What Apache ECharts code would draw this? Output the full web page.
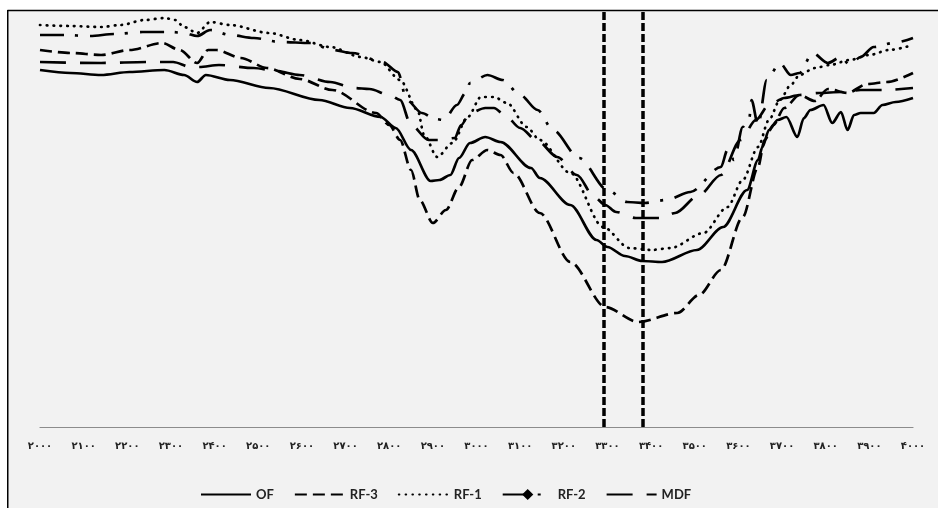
<!DOCTYPE html>
<html><head><meta charset="utf-8">
<script src="https://cdn.jsdelivr.net/npm/echarts@6/dist/echarts.min.js"></script>
<style>html,body{margin:0;padding:0;background:#fff}#c{width:938px;height:508px}</style>
</head><body><div id="c"></div>
<script>
// x-axis ticks (wavenumber, cm-1) and their Persian labels
const tickValues = [2000,2100,2200,2300,2400,2500,2600,2700,2800,2900,3000,3100,3200,3300,3400,3500,3600,3700,3800,3900,4000];
const tickLabels = ['۲۰۰۰','۲۱۰۰','۲۲۰۰','۲۳۰۰','۲۴۰۰','۲۵۰۰','۲۶۰۰','۲۷۰۰','۲۸۰۰','۲۹۰۰','۳۰۰۰','۳۱۰۰','۳۲۰۰','۳۳۰۰','۳۴۰۰','۳۵۰۰','۳۶۰۰','۳۷۰۰','۳۸۰۰','۳۹۰۰','۴۰۰۰'];
const seriesNames = ['OF','RF-3','RF-1','RF-2','MDF'];
const markers = [3292, 3381];

const ofX = [2000,2070,2140,2205,2285,2330,2360,2380,2435,2525,2640,2710,2780,2815,2850,2895,2915,2940,2960,2985,3020,3055,3125,3145,3215,3275,3300,3340,3380,3425,3505,3565,3620,3645,3655,3670,3690,3710,3735,3750,3765,3795,3815,3835,3850,3865,3880,3910,3930,3960,4000];
const ofY = [71.4,70.8,70.4,71.0,71.4,70.4,69.0,70.4,69.4,67.8,65.4,63.8,62.0,59.8,55.4,49.2,49.4,50.4,53.8,56.8,58.0,57.0,51.8,49.8,44.4,37.4,36.0,34.2,33.2,33.0,35.4,40.0,47.4,53.4,56.0,59.4,61.4,62.0,58.0,61.8,63.4,64.4,60.8,63.0,59.4,62.4,62.8,62.8,64.4,65.0,65.8];

const rf3X = [2000,2070,2140,2205,2280,2320,2360,2385,2405,2460,2520,2595,2670,2770,2800,2825,2850,2870,2900,2930,2960,2990,3025,3055,3085,3145,3215,3295,3370,3460,3510,3560,3610,3645,3660,3680,3705,3740,3775,3805,3850,3895,3940,4000];
const rf3Y = [75.4,74.8,74.4,75.4,76.8,75.4,72.8,75.4,75.4,73.8,71.8,69.6,67.4,62.8,60.4,57.4,51.4,45.4,40.8,43.4,48.0,53.4,55.4,54.4,50.8,42.8,33.0,24.0,21.0,22.8,26.4,31.4,42.0,52.0,57.4,60.4,63.8,66.4,65.2,67.6,66.8,68.6,69.0,70.8];

const rf1X = [2000,2070,2140,2185,2240,2285,2310,2330,2360,2390,2435,2525,2595,2665,2735,2780,2825,2865,2880,2910,2945,2980,3010,3040,3070,3115,3145,3215,3290,3350,3400,3445,3520,3575,3610,3645,3670,3695,3720,3740,3775,3810,3855,3900,3945,4000];
const rf1Y = [80.4,80.2,80.0,80.4,81.4,81.8,81.4,80.0,78.8,81.0,80.4,78.8,77.4,76.0,74.0,73.0,69.4,63.4,58.4,54.0,56.8,62.0,66.0,66.0,64.8,60.0,57.4,50.8,40.0,35.8,35.4,35.8,38.8,44.0,49.4,56.0,61.4,65.4,68.4,70.4,71.8,72.4,73.4,74.4,75.4,76.4];

const rf2X = [2000,2055,2115,2170,2235,2300,2330,2360,2390,2435,2490,2550,2620,2670,2715,2785,2820,2840,2875,2905,2925,2955,2975,2985,3025,3060,3100,3140,3175,3235,3300,3345,3385,3435,3490,3560,3575,3590,3610,3625,3630,3645,3665,3695,3720,3740,3770,3805,3835,3855,3880,3910,3955,4000];
const rf2Y = [78.4,78.4,78.2,78.6,79.0,79.0,78.8,78.2,79.4,78.4,77.8,77.0,76.8,75.4,74.8,73.0,71.0,65.4,62.8,61.6,61.4,64.4,66.8,68.8,70.4,69.4,66.4,63.4,59.4,53.8,47.4,45.0,44.8,45.4,47.0,52.0,55.4,53.4,60.0,61.8,65.4,60.4,69.4,72.8,70.4,70.8,74.8,72.8,74.0,72.4,74.0,76.0,76.8,77.8];

const mdfX = [2000,2140,2245,2305,2345,2365,2410,2490,2540,2595,2665,2720,2755,2800,2825,2850,2890,2915,2950,2965,2985,3020,3040,3065,3100,3140,3185,3230,3270,3295,3320,3365,3425,3455,3510,3560,3605,3640,3670,3705,3740,3785,3835,3880,3935,4000];
const mdfY = [73.0,72.8,73.0,73.0,72.0,72.0,72.4,71.8,71.2,70.4,69.0,67.8,67.6,66.4,65.4,60.4,57.4,57.4,57.8,60.4,62.8,63.8,63.8,62.4,59.8,57.2,54.0,50.4,46.0,44.4,43.0,41.8,41.8,42.8,46.4,50.4,57.4,61.4,64.4,65.8,66.4,66.8,67.0,67.4,67.4,67.8];

const pairs = (xs, ys) => xs.map((x, i) => [x, ys[i]]);
const styles = [
  {type: 'solid'},
  {type: [12, 6]},
  {type: [0.6, 6.2], cap: 'round'},
  {type: [24, 11, 3, 12]},
  {type: [26, 14]}
];
const dataSets = [pairs(ofX, ofY), pairs(rf3X, rf3Y), pairs(rf1X, rf1Y), pairs(rf2X, rf2Y), pairs(mdfX, mdfY)];

const series = seriesNames.map((name, i) => ({
  name: name,
  type: 'line',
  data: dataSets[i],
  smooth: 0.3,
  smoothMonotone: 'x',
  symbol: name === 'RF-2' ? 'diamond' : 'none',
  symbolSize: 9,
  showSymbol: false,
  itemStyle: {color: '#000'},
  lineStyle: Object.assign({color: '#000', width: 2.7}, styles[i]),
  z: 3
}));
series[0].markLine = {
  silent: true,
  symbol: ['none', 'none'],
  label: {show: false},
  lineStyle: {color: '#000', width: 3.5, type: [8, 3]},
  data: markers.map(v => ({xAxis: v}))
};

const chart = echarts.init(document.getElementById('c'), null, {renderer: 'canvas'});
chart.setOption({
  backgroundColor: '#ffffff',
  animation: false,
  graphic: [
    {type: 'rect', shape: {x: 8, y: 10, width: 940, height: 510}, style: {fill: '#f2f2f2'}, z: 0, silent: true},
    {type: 'line', shape: {x1: 7.5, y1: 10.5, x2: 938, y2: 10.5}, style: {stroke: '#000', lineWidth: 1.5}, z: 1, silent: true},
    {type: 'line', shape: {x1: 7.75, y1: 10, x2: 7.75, y2: 508}, style: {stroke: '#000', lineWidth: 1.5}, z: 1, silent: true}
  ],
  grid: {left: 40, right: 25, top: 12, bottom: 81, containLabel: false},
  xAxis: {
    type: 'value', min: 2000, max: 4000, interval: 100,
    axisLine: {show: true, lineStyle: {color: '#8c8c8c', width: 1.2}},
    axisTick: {show: false},
    splitLine: {show: false},
    axisLabel: {
      margin: 14,
      color: '#222',
      fontFamily: 'DejaVu Sans',
      fontWeight: 'bold',
      fontSize: 10,
      formatter: v => { const k = tickValues.indexOf(v); return k >= 0 ? tickLabels[k] : ''; }
    }
  },
  yAxis: {type: 'value', min: 0, max: 83, show: false, splitLine: {show: false}},
  legend: {
    left: 195, top: 483,
    itemWidth: 50, itemHeight: 14, itemGap: 20,
    data: seriesNames.map(n => n === 'RF-2' ? {name: n} : {name: n, itemStyle: {opacity: 0}}),
    textStyle: {fontFamily: 'Lato', fontSize: 13, fontWeight: 'bold', color: '#222'}
  },
  series: series
});
</script></body></html>
